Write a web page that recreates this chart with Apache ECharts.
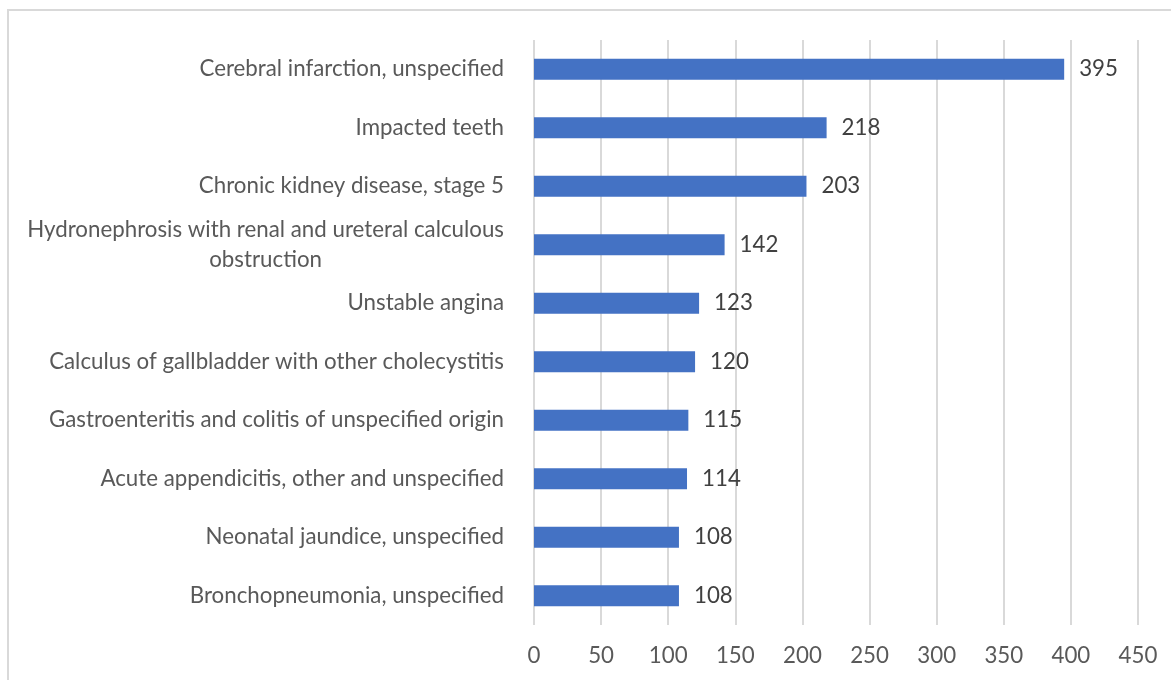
<!DOCTYPE html>
<html>
<head>
<meta charset="utf-8">
<script src="https://cdn.jsdelivr.net/npm/echarts@6/dist/echarts.min.js"></script>
<style>
  html, body { margin: 0; padding: 0; background: #fff; }
  #chart { width: 1171px; height: 680px; }
</style>
</head>
<body>
<div id="chart"></div>
<script>
const categories = [
  "Cerebral infarction, unspecified",
  "Impacted teeth",
  "Chronic kidney disease, stage 5",
  "Hydronephrosis with renal and ureteral calculous\nobstruction",
  "Unstable angina",
  "Calculus of gallbladder with other cholecystitis",
  "Gastroenteritis and colitis of unspecified origin",
  "Acute appendicitis, other and unspecified",
  "Neonatal jaundice, unspecified",
  "Bronchopneumonia, unspecified",
];
const counts = [395, 218, 203, 142, 123, 120, 115, 114, 108, 108];

const fontFamily = "Lato, 'Open Sans', sans-serif";
const fontSize = 22.3;

const chart = echarts.init(document.getElementById("chart"));

chart.setOption({
  backgroundColor: "#fff",
  animation: false,
  graphic: [
    {
      type: "rect",
      shape: { x: 8, y: 10, width: 1200, height: 700 },
      style: { fill: "none", stroke: "#d9d9d9", lineWidth: 2 },
      silent: true,
    },
  ],
  grid: { left: 534, right: 33, top: 40, bottom: 55, containLabel: false },
  xAxis: {
    type: "value",
    min: 0,
    max: 450,
    interval: 50,
    axisLine: { show: false },
    axisTick: { show: false },
    axisLabel: {
      color: "#595959",
      fontFamily,
      fontSize,
      margin: 20,
    },
    splitLine: { lineStyle: { color: "#d9d9d9", width: 2 } },
  },
  yAxis: {
    type: "category",
    inverse: true,
    data: categories,
    axisLine: { show: false },
    axisTick: { show: false },
    axisLabel: {
      color: "#595959",
      fontFamily,
      fontSize,
      margin: 30,
      lineHeight: 30,
      formatter: (value) => {
        const lines = value.split("\n");
        return lines.map((line) => `{c|${line}}`).join("\n");
      },
      rich: {
        c: {
          align: "center",
          color: "#595959",
          fontFamily,
          fontSize,
          lineHeight: 30,
        },
      },
    },
  },
  series: [
    {
      type: "bar",
      data: counts,
      barWidth: 21,
      itemStyle: { color: "#4472c4" },
      label: {
        show: true,
        position: "right",
        distance: 15,
        color: "#404040",
        fontFamily,
        fontSize,
      },
    },
  ],
});
</script>
</body>
</html>
